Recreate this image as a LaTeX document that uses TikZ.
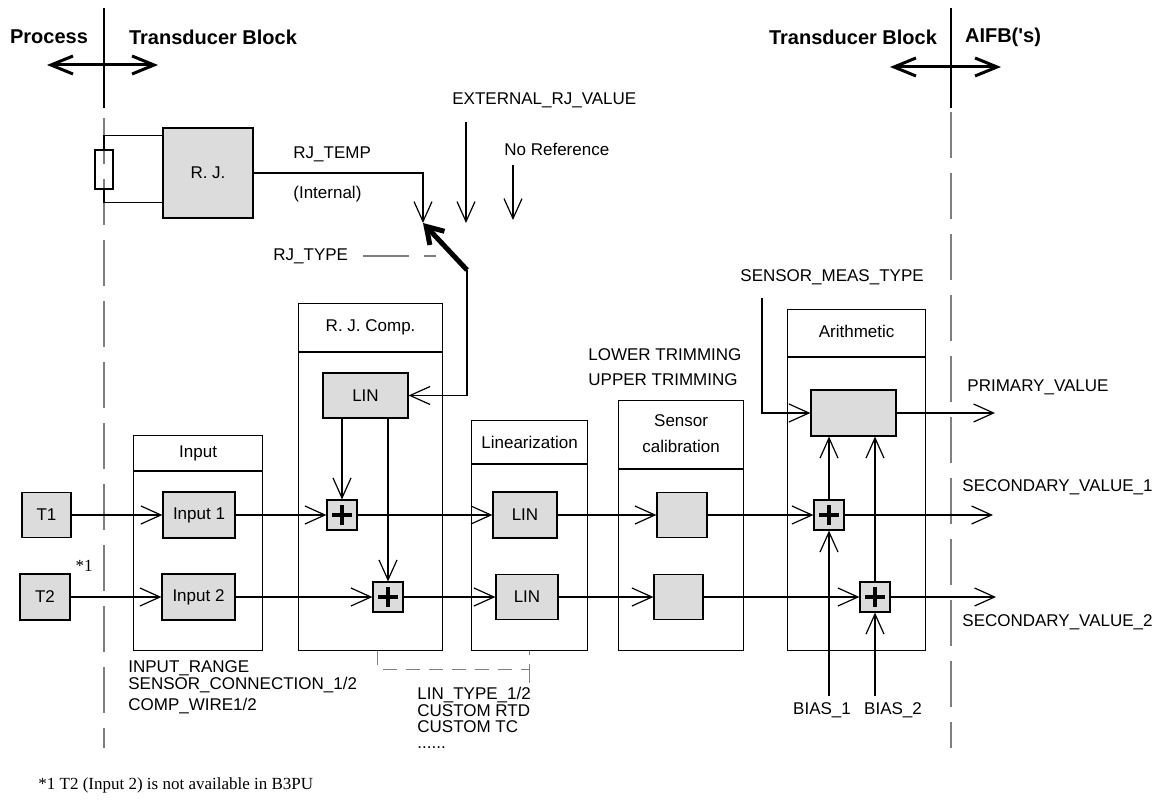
\documentclass[tikz,border=0pt]{standalone}
\usepackage{fontspec}
\setmainfont{Liberation Sans}
\newfontfamily\seriffont{Liberation Serif}
\usetikzlibrary{arrows.meta,positioning,calc}
\definecolor{boxgray}{HTML}{DCDCDC}
\definecolor{divgray}{HTML}{7F7F7F}
\tikzset{
  lbl/.style     ={inner sep=0pt,font=\fontsize{8.5}{10}\selectfont},
  title/.style   ={inner sep=0pt,font=\fontsize{10}{12}\selectfont\bfseries},
  gbox/.style    ={draw,fill=boxgray,inner sep=0pt,line width=0.6pt,
                   font=\fontsize{8.5}{10}\selectfont},
  sumbox/.style  ={draw,fill=boxgray,inner sep=0pt,line width=0.6pt,minimum size=15pt,
                   path picture={\draw[line width=2pt]
                     ([xshift=-5pt]path picture bounding box.center) -- ([xshift=5pt]path picture bounding box.center)
                     ([yshift=-5pt]path picture bounding box.center) -- ([yshift=5pt]path picture bounding box.center);}},
  block/.style   ={draw,line width=0.6pt,anchor=north west,inner sep=0pt},
  wire/.style    ={line width=0.6pt},
  sig/.style     ={line width=0.6pt,-{Straight Barb[length=10pt,width=9pt]}},
  bound/.style   ={line width=1.5pt,{Straight Barb[length=11pt,width=9pt]}-{Straight Barb[length=11pt,width=9pt]}},
  switcharm/.style={line width=2.5pt,-{Straight Barb[length=8pt,width=10pt]}},
  divider/.style ={divgray,line width=0.8pt,dash pattern=on 23pt off 7.5pt},
  param/.style   ={divgray,line width=0.6pt,dash pattern=on 7pt off 4.5pt},
}

\begin{document}
\begin{tikzpicture}[x=0.5pt,y=-0.5pt]
\useasboundingbox (0,0) rectangle (1160,812);
% domain boundaries
\draw[line width=0.8pt] (104,8) -- (104,108);
\draw[divider] (104,118) -- (104,748);
\draw[line width=0.8pt] (951,8) -- (951,108);
\draw[divider] (951,112) -- (951,748);
\node[title] (proc) at (49,37) {Process};
\node[title] (tbl) at (213,37) {Transducer Block};
\node[title] (tbr) at (853,37) {Transducer Block};
\node[title] (aifb) at (1003,37) {AIFB(\textquotesingle s)};
\coordinate (bl1) at (47,65);  \coordinate (bl2) at (158,65);
\coordinate (br1) at (890,67); \coordinate (br2) at (1001,67);
\draw[bound] (bl1) -- (bl2);
\draw[bound] (br1) -- (br2);

% reference junction and selector
\node[gbox,minimum width=45pt,minimum height=45pt] (rj) at (208,173) {R. J.};
\node[draw,line width=0.6pt,minimum width=9pt,minimum height=19.5pt,inner sep=0pt] (res) at (104,169.5) {};
\draw[wire] (res.north) |- ([yshift=-4pt]rj.north west);
\draw[wire] (res.south) |- ([yshift=8pt]rj.south west);
\node[lbl,anchor=west] (rjtemp) at (293,154) {RJ\_TEMP};
\node[lbl,anchor=west] (internal) at (293,194) {(Internal)};
\node[lbl,anchor=west] (extrj) at (452,100) {EXTERNAL\_RJ\_VALUE};
\node[lbl,anchor=west] (noref) at (504,149) {No Reference};
\node[lbl,anchor=west] (rjtype) at (273,256) {RJ\_TYPE};
\coordinate (contact) at (423,223);
\coordinate (pivot) at (467,270);
\coordinate (ext0) at (466,122); \coordinate (ext1) at (466,223);
\coordinate (nr0) at (513,165);  \coordinate (nr1) at (513,220);
\coordinate (rjt1) at (436,256);
\draw[sig] (rj.east) -| (contact);
\draw[sig] (ext0) -- (ext1);
\draw[sig] (nr0) -- (nr1);
\draw[param,dash pattern=on 23pt off 7.5pt] ([xshift=7.5pt]rjtype.east) -- (rjt1);
\draw[switcharm] (pivot) -- (contact);

% function blocks
\node[block,minimum width=64.5pt,minimum height=107.5pt] (inp) at (133,435) {};
\node[block,minimum width=72pt,minimum height=173.5pt] (rjc) at (298,303) {};
\node[block,minimum width=58pt,minimum height=115pt] (lin) at (471,420) {};
\node[block,minimum width=62.5pt,minimum height=125pt] (cal) at (618,400) {};
\node[block,minimum width=69pt,minimum height=170.5pt] (ari) at (787,309) {};
\draw[wire] ([yshift=-18pt]inp.north west) -- ([yshift=-18pt]inp.north east);
\draw[wire] ([yshift=-24.5pt]rjc.north west) -- ([yshift=-24.5pt]rjc.north east);
\draw[wire] ([yshift=-22pt]lin.north west) -- ([yshift=-22pt]lin.north east);
\draw[wire] ([yshift=-34.5pt]cal.north west) -- ([yshift=-34.5pt]cal.north east);
\draw[wire] ([yshift=-24pt]ari.north west) -- ([yshift=-24pt]ari.north east);
\node[lbl] at ([yshift=-9pt]inp.north) {Input};
\node[lbl] at ([yshift=-12pt]rjc.north) {R. J. Comp.};
\node[lbl] at ([yshift=-11pt]lin.north) {Linearization};
\node[lbl,align=center,font=\fontsize{8.5}{13}\selectfont] at ([yshift=-17pt]cal.north) {Sensor\\calibration};
\node[lbl] at ([yshift=-11pt]ari.north) {Arithmetic};

% signal elements
\node[gbox,minimum width=24.5pt,minimum height=22.5pt] (t1) at (46.5,515) {T1};
\node[gbox,minimum width=25pt,minimum height=23pt] (t2) at (45,597) {T2};
\node[lbl,font=\fontsize{8.5}{10}\seriffont] (note) at (84,566) {*1};
\node[gbox,minimum width=36pt,minimum height=23pt] (in1) at (199,515) {Input 1};
\node[gbox,minimum width=36.5pt,minimum height=23pt] (in2) at (198.5,597) {Input 2};
\node[gbox,minimum width=42.5pt,minimum height=22.5pt] (linrj) at (365.5,395.5) {LIN};
\node[sumbox] (sumA) at (342,515) {};
\node[sumbox] (sumB) at (388,597) {};
\node[gbox,minimum width=32pt,minimum height=23pt] (lin1) at (525,515) {LIN};
\node[gbox,minimum width=31pt,minimum height=22.5pt] (lin2) at (527,597) {LIN};
\node[gbox,minimum width=25pt,minimum height=22.5pt] (cal1) at (682,515) {};
\node[gbox,minimum width=24.5pt,minimum height=22.5pt] (cal2) at (678.5,597) {};
\node[gbox,minimum width=42.5pt,minimum height=23pt] (arb) at (853.5,413) {};
\node[sumbox] (sumC) at (829,515) {};
\node[sumbox] (sumD) at (875,597) {};

\draw[sig] (pivot) |- (linrj.east);
\draw[sig] (t1) -- (in1);
\draw[sig] (t2) -- (in2);
\draw[sig] (in1) -- (sumA);
\draw[sig] (in2) -- (sumB);
\draw[sig] (sumA |- linrj.south) -- (sumA.north);
\draw[sig] (sumB |- linrj.south) -- (sumB.north);
\draw[sig] (sumA) -- (lin1);
\draw[sig] (sumB) -- (lin2);
\draw[sig] (lin1) -- (cal1);
\draw[sig] (lin2) -- (cal2);
\draw[sig] (cal1) -- (sumC);
\draw[sig] (cal2) -- (sumD);
\draw[sig] (sumC.north) -- (sumC |- arb.south);
\draw[sig] (sumD.north) -- (sumD |- arb.south);

% outputs
\coordinate (smt0) at (762,298);
\coordinate (pv) at (995,413);
\coordinate (sv1) at (993,515);
\coordinate (sv2) at (996,597);
\node[lbl,anchor=west] (smt) at (740,277) {SENSOR\_MEAS\_TYPE};
\node[lbl,anchor=west] (lowtrim) at (588,355) {LOWER TRIMMING};
\node[lbl,anchor=west] (uptrim) at (588,380) {UPPER TRIMMING};
\node[lbl,anchor=west] (pvl) at (967,387) {PRIMARY\_VALUE};
\node[lbl,anchor=west] (sv1l) at (962,487) {SECONDARY\_VALUE\_1};
\node[lbl,anchor=west] (sv2l) at (962,622) {SECONDARY\_VALUE\_2};
\draw[sig] (smt0) |- (arb.west);
\draw[sig] (arb) -- (pv);
\draw[sig] (sumC) -- (sv1);
\draw[sig] (sumD) -- (sv2);
\node[lbl,inner sep=3pt] (bias1) at (822,710) {BIAS\_1};
\node[lbl,inner sep=3pt] (bias2) at (893,710) {BIAS\_2};
\draw[sig] (sumC |- bias1.north) -- (sumC.south);
\draw[sig] (sumD |- bias2.north) -- (sumD.south);

% parameters
\node[lbl,anchor=west] (inrange) at (128,668) {INPUT\_RANGE};
\node[lbl,anchor=west] (sconn) at (128,685) {SENSOR\_CONNECTION\_1/2};
\node[lbl,anchor=west] (cwire) at (128,706) {COMP\_WIRE1/2};
\node[lbl,anchor=west] (lintype) at (417,695) {LIN\_TYPE\_1/2};
\node[lbl,anchor=west] (crtd) at (417,711) {CUSTOM RTD};
\node[lbl,anchor=west] (ctc) at (417,727) {CUSTOM TC};
\node[lbl,anchor=west] (dots) at (417,748) {......};
\draw[param] ([xshift=3.5pt]rjc.south) -- ++(0,18) -| (lin.south);
\draw[param] ([yshift=-9pt]lin.south) -- ++(0,24);

\node[lbl,anchor=west,font=\fontsize{8.5}{10}\seriffont] (foot) at (38,785) {*1 T2 (Input 2) is not available in B3PU};
\end{tikzpicture}
\end{document}
